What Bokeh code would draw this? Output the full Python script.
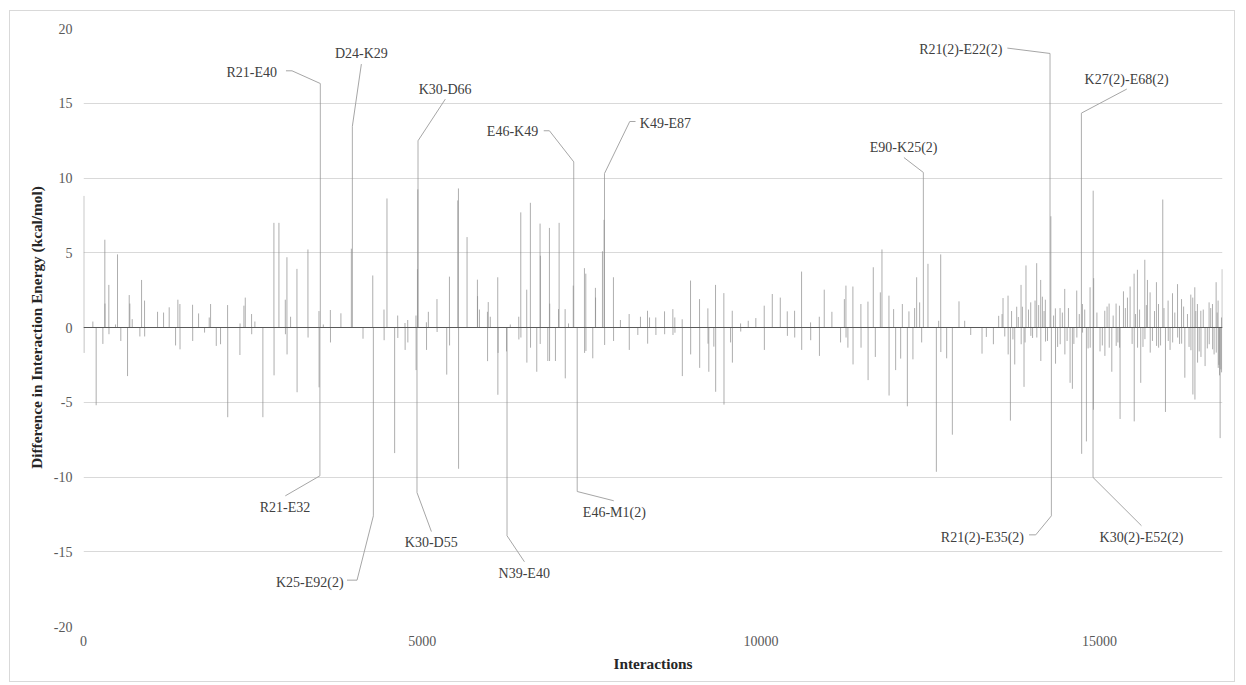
from bokeh.plotting import figure
from bokeh.models import ColumnDataSource, FixedTicker, Range1d, PrintfTickFormatter
from bokeh.core.properties import value
from bokeh.embed import file_html
from bokeh.resources import INLINE

# ---------------- data ----------------
n_interactions = 16814

idx_a = [5, 7, 138, 187, 286, 315, 317, 374, 376, 473, 502, 551, 650, 675, 684, 719, 832, 857, 901, 903,
         1093, 1182, 1265, 1359, 1393, 1423, 1425, 1610, 1612, 1699, 1787, 1856, 1876, 1960, 2023, 2127,
         2129, 2309, 2311, 2368, 2388, 2481, 2483, 2530, 2648, 2811, 2813, 2885]
val_a = [8.8, -1.7, 0.4, -5.2, -1.1, 5.87, 1.6, 2.85, -0.45, 0.2, 4.89, -0.9, -3.25, 2.17, 1.6, 0.56, -0.6, 3.18, 1.8, -0.6,
         1.05, 1.0, 1.35, -1.2, 1.86, 1.57, -1.46, 1.52, -0.9, 0.94, -0.34, 0.67, 1.57, -1.23, -1.12, 1.5,
         -6.0, -1.84, 0.27, 1.46, 2.0, 0.9, -0.45, 0.4, -6.0, 7.0, -3.2, 7.0]

idx_b = [2979, 2981, 3003, 3005, 3057, 3151, 3153, 3313, 3315, 3476, 3478, 3490, 3496, 3540, 3644, 3646, 3800,
         3954, 3969, 4126, 4270, 4279, 4436, 4438, 4480, 4593, 4638, 4640, 4746, 4748, 4786, 4788, 4908, 4910,
         4923, 4930, 4935, 4938, 5062, 5064, 5091, 5218, 5220, 5362, 5402, 5404, 5525, 5535, 5537]
val_b = [1.86, -0.45, 4.7, -1.8, 0.72, 3.92, -4.33, 5.22, -0.67, 1.1, -4.0, -9.92, 16.32, 0.2, 1.17, -1.0, 0.95,
         5.27, 13.46, -0.75, 3.48, -12.6, 1.2, -0.85, 8.63, -8.4, 0.8, -0.7, 0.3, -1.5, 0.5, -1.0, 0.8, -2.85,
         -11.04, 3.9, 9.24, 12.49, 0.35, -1.5, 1.05, 1.9, -0.3, -3.15, 3.4, -1.2, 8.5, 9.3, -9.45]

idx_c = [5662, 5815, 5817, 5845, 5963, 5965, 5975, 6005, 6115, 6117, 6120, 6245, 6252, 6300, 6425, 6427, 6455,
         6457, 6543, 6545, 6597, 6599, 6691, 6740, 6742, 6745, 6854, 6878, 6880, 6882, 6967, 7012, 7021, 7110,
         7112, 7160, 7230, 7237, 7288, 7395, 7397, 7415, 7417, 7518, 7557, 7559, 7661, 7685, 7691, 7693, 7823,
         7825, 7926, 8055, 8057, 8183, 8222, 8326, 8328, 8356]
val_c = [6.05, 3.2, 2.1, 1.2, 1.05, -2.25, 1.7, 0.72, 3.36, -4.5, -1.7, -1.6, -13.93, 0.2, 0.72, -0.8, 7.7,
         -0.67, 2.53, -2.35, 8.34, -1.35, -2.96, 6.95, -1.1, 4.8, -2.24, 6.66, -2.24, 1.6, -2.24, 1.23, 7.0, 1.23,
         -3.4, 0.27, 2.8, 11.08, -10.97, 3.97, -1.7, 3.6, -1.57, -2.06, 2.65, 2.0, 5.1, 7.2, 10.3, -1.17, 3.36,
         -0.9, 0.5, 0.9, -1.5, -0.5, 0.72, 1.12, -1.08, 0.67]

idx_d = [8448, 8450, 8577, 8579, 8700, 8702, 8729, 8731, 8838, 8840, 8961, 8963, 9094, 9096, 9217, 9219, 9231,
         9305, 9330, 9332, 9453, 9455, 9552, 9577, 9579, 9700, 9702, 9813, 9925, 10049, 10051, 10168, 10286,
         10389, 10391, 10497, 10499, 10600, 10602, 10733, 10735, 10862, 10864, 10935, 11048, 11176, 11232]
val_d = [0.67, -0.5, 1.08, -0.45, 1.23, -0.5, 0.67, -0.35, 0.55, -3.25, 3.14, -1.8, 1.9, -2.7, 1.28, -1.08, -2.96,
         -1.28, 2.85, -4.3, 2.3, -5.16, -1.0, 1.12, -2.35, 0.27, -0.27, 0.45, 0.63, 1.46, -1.5, 2.24, 2.0,
         1.08, -0.56, 1.12, -0.67, 3.74, -1.5, 0.34, -0.85, 0.72, -1.9, 2.53, 1.05, -1.0, 1.9]

idx_e = [11255, 11257, 11284, 11358, 11360, 11476, 11478, 11580, 11582, 11659, 11689, 11763, 11787, 11890, 11892,
         11959, 11989, 12063, 12088, 12162, 12185, 12244, 12269, 12299, 12343, 12373, 12398, 12466, 12590, 12624,
         12654, 12656, 12742, 12826, 12924, 13008, 13097, 13264, 13328, 13432, 13510, 13574, 13648, 13650, 13683,
         13747, 13776, 13840, 13842, 13860, 13884, 13913, 13983, 13985]
val_e = [2.8, -0.67, -1.35, 2.74, -2.47, 1.57, -1.35, 1.73, -3.52, 4.03, -1.97, 2.35, 5.22, 2.13, -4.55,
         1.23, -2.85, -2.08, 1.57, -5.27, 1.08, -2.13, 1.3, 3.36, 1.68, -1.0, 10.37, 4.26, -9.65, 0.45,
         4.89, -1.64, -2.06, -7.17, 1.75, 0.45, -0.5, -1.75, -0.63, -1.12, 0.78, 1.97, 2.13, -1.8, -6.23,
         -2.47, 1.39, 2.85, -1.12, 1.39, -3.97, 4.15, 1.68, -0.56]

idx_f = [14047, 14071, 14073, 14130, 14132, 14155, 14199, 14201, 14268, 14280, 14288, 14347, 14349, 14416, 14418,
         14485, 14487, 14564, 14598, 14662, 14664, 14731, 14735, 14746, 14748, 14805, 14859, 14861, 14903, 14905,
         14908, 14912, 15006, 15076, 15078, 15140, 15142, 15180, 15243, 15245, 15293, 15295, 15302, 15352, 15411,
         15450, 15509, 15511, 15558, 15560, 15607, 15667, 15669, 15706, 15745, 15747, 15839, 15841, 15869, 15871,
         15932, 15972, 16011, 16013, 16076, 16078, 16150, 16152, 16209, 16211, 16258, 16297, 16346, 16348, 16375,
         16377, 16405, 16407, 16444, 16446, 16494, 16496, 16557, 16616, 16618, 16666, 16668, 16720, 16722, 16749,
         16751, 16760, 16770, 16779, 16790, 16799, 16801, 16810]
val_f = [1.8, 4.3, -0.67, 3.18, -2.24, 2.06, 1.86, -0.94, 18.33, 7.44, -12.6, 1.28, -2.42, 1.3, -1.12,
         2.58, -1.8, -3.7, -4.1, 2.47, -0.67, 14.34, -8.45, 1.57, -0.34, -7.62, 2.69, -1.35, -10.03, 9.15,
         -5.5, 3.3, -1.6, 1.12, -1.9, 1.6, -1.35, -2.96, 1.6, -1.23, 1.46, -1.35, -6.12, 2.42, 2.0,
         2.74, 3.6, -6.28, 3.86, -1.35, -3.7, 4.53, -0.78, 3.18, 2.35, -1.68, 3.03, -1.23, 1.57, -1.35,
         8.56, -5.65, 1.8, -0.9, 2.29, -1.0, 2.9, -0.67, 1.9, -1.08, -3.36, 0.9, 2.2, -1.52, 2.0,
         -4.48, 2.69, -4.82, 1.57, -2.35, 1.12, -1.97, -2.58, 1.68, -1.12, 1.57, -1.46, 3.03, -1.68, 1.8,
         -2.7, -2.5, -3.2, -7.4, -2.8, 0.67, -3.0, 3.9]

# small near-baseline interactions in the dense right-hand part
idx_g = [13560, 13600, 13700, 13720, 13800, 13900, 13950, 14010, 14100, 14180, 14230, 14320, 14380, 14450,
         14520, 14540, 14620, 14700, 14780, 14830, 14960, 15040, 15110, 15200, 15270, 15380, 15480, 15530,
         15590, 15640, 15690, 15780, 15810, 15900, 15950, 16040, 16110, 16180, 16240, 16320, 16420, 16470,
         16530, 16590, 16640, 16690, 16735]
val_g = [0.9, -0.6, 1.1, -0.8, 0.7, -1.0, 1.2, -0.7, 1.5, 1.1, -0.9, 0.8, -1.3, 1.0,
         -0.9, 1.3, -1.1, 0.9, 1.2, -1.4, 1.0, -1.2, 1.4, 0.8, -1.0, 1.3, -1.1, 0.9,
         1.2, -1.3, 1.5, -0.9, 1.1, -1.2, 1.3, -1.5, 1.0, -1.1, 1.4, -1.3, 1.1, -1.6,
         1.2, -1.4, 1.3, -1.8, 1.0]

interaction = idx_a + idx_b + idx_c + idx_d + idx_e + idx_f + idx_g
energy_diff = val_a + val_b + val_c + val_d + val_e + val_f + val_g

# labelled interactions
label_text = ["R21-E40", "D24-K29", "K30-D66", "E46-K49", "K49-E87", "E90-K25(2)", "R21(2)-E22(2)",
              "K27(2)-E68(2)", "R21-E32", "K25-E92(2)", "K30-D55", "N39-E40", "E46-M1(2)",
              "R21(2)-E35(2)", "K30(2)-E52(2)"]
label_index = [3496, 3969, 4938, 7237, 7691, 12398, 14268, 14731, 3490, 4279, 4923, 6252, 7288, 14288, 14903]
label_energy = [16.32, 13.46, 12.49, 11.08, 10.3, 10.37, 18.33, 14.34, -9.92, -12.6, -11.04, -13.93, -10.97,
                -12.6, -10.03]
# label placement (layout)
label_x = [2857, 4102, 5338, 6712, 8212, 12107, 13565, 15398, 2975, 3840, 5133, 6506, 7836, 13884, 15619]
label_y = [17.06, 18.33, 15.9, 13.11, 13.67, 12.04, 18.58, 16.62, -12.04, -17.06, -14.38, -16.45, -12.37,
           -14.05, -14.05]
label_align = ["right", "center", "center", "right", "left", "center", "right", "center", "center", "right",
               "center", "center", "center", "right", "center"]
leader_start_x = [2989, 4102, 5342, 6794, 8149, 12111, 13638, 15401, 2979, 3890, 5136, 6509, 7828, 13958, 15618]
leader_start_y = [17.17, 17.62, 15.28, 13.16, 13.78, 11.37, 18.69, 15.95, -11.26, -16.9, -13.65, -15.67,
                  -11.59, -13.87, -13.26]
leader_stub_x = [3078, None, None, 6878, 8064, None, None, None, None, 4038, None, None, None, 14057, None]

SERIF = "'Liberation Serif', 'Times New Roman', serif"

# ---------------- figure ----------------
p = figure(width=1226, height=672, x_range=Range1d(0, n_interactions), y_range=Range1d(-20, 20),
           output_backend="svg", toolbar_location=None,
           min_border_left=73, min_border_right=14, min_border_top=17, min_border_bottom=57)
p.styles = {"margin-left": "9px", "margin-top": "10px", "border": "1px solid #d9d9d9"}
p.outline_line_color = None
p.background_fill_color = "white"
p.border_fill_color = "white"

p.xgrid.grid_line_color = None
p.ygrid.grid_line_color = "#d9d9d9"
p.ygrid.grid_line_width = 1

p.xaxis.ticker = FixedTicker(ticks=[0, 5000, 10000, 15000])
p.yaxis.ticker = FixedTicker(ticks=[-20, -15, -10, -5, 0, 5, 10, 15, 20])
p.yaxis.formatter = PrintfTickFormatter(format="%d")
p.xaxis.formatter = PrintfTickFormatter(format="%d")
for ax in (p.xaxis, p.yaxis):
    ax.axis_line_color = None
    ax.major_tick_line_color = None
    ax.minor_tick_line_color = None
    ax.major_label_text_font = SERIF
    ax.major_label_text_font_size = "14px"
    ax.major_label_text_color = "#595959"
    ax.axis_label_text_font = SERIF
    ax.axis_label_text_font_size = "15.3px"
    ax.axis_label_text_font_style = "bold"
    ax.axis_label_text_color = "#262626"
p.xaxis.axis_label = "Interactions"
p.yaxis.axis_label = "Difference in Interaction Energy (kcal/mol)"
p.xaxis.major_label_standoff = 3
p.yaxis.major_label_standoff = 5
p.xaxis.axis_label_standoff = 6
p.yaxis.axis_label_standoff = 6

# spikes
src = ColumnDataSource(data=dict(x=interaction, y=energy_diff, y0=[0] * len(interaction)))
p.segment(x0="x", y0="y0", x1="x", y1="y", source=src, line_color="#8c8c8c", line_alpha=0.7, line_width=1)
# baseline of the series
p.line(x=[0, n_interactions], y=[0, 0], line_color="#595959", line_width=1.2)

# leader lines
xs, ys = [], []
for i in range(len(label_text)):
    lx = [leader_start_x[i]]
    ly = [leader_start_y[i]]
    if leader_stub_x[i] is not None:
        lx.append(leader_stub_x[i])
        ly.append(leader_start_y[i])
    lx.append(label_index[i])
    ly.append(label_energy[i])
    xs.append(lx)
    ys.append(ly)
p.multi_line(xs=xs, ys=ys, line_color="#a6a6a6", line_width=1)

lsrc = ColumnDataSource(data=dict(x=label_x, y=label_y, t=label_text, a=label_align))
p.text(x="x", y="y", text="t", text_align="a", text_baseline="middle", source=lsrc,
       text_font=value(SERIF), text_font_size="14px", text_color="#404040")

open("out.html", "w").write(file_html(p, INLINE))
